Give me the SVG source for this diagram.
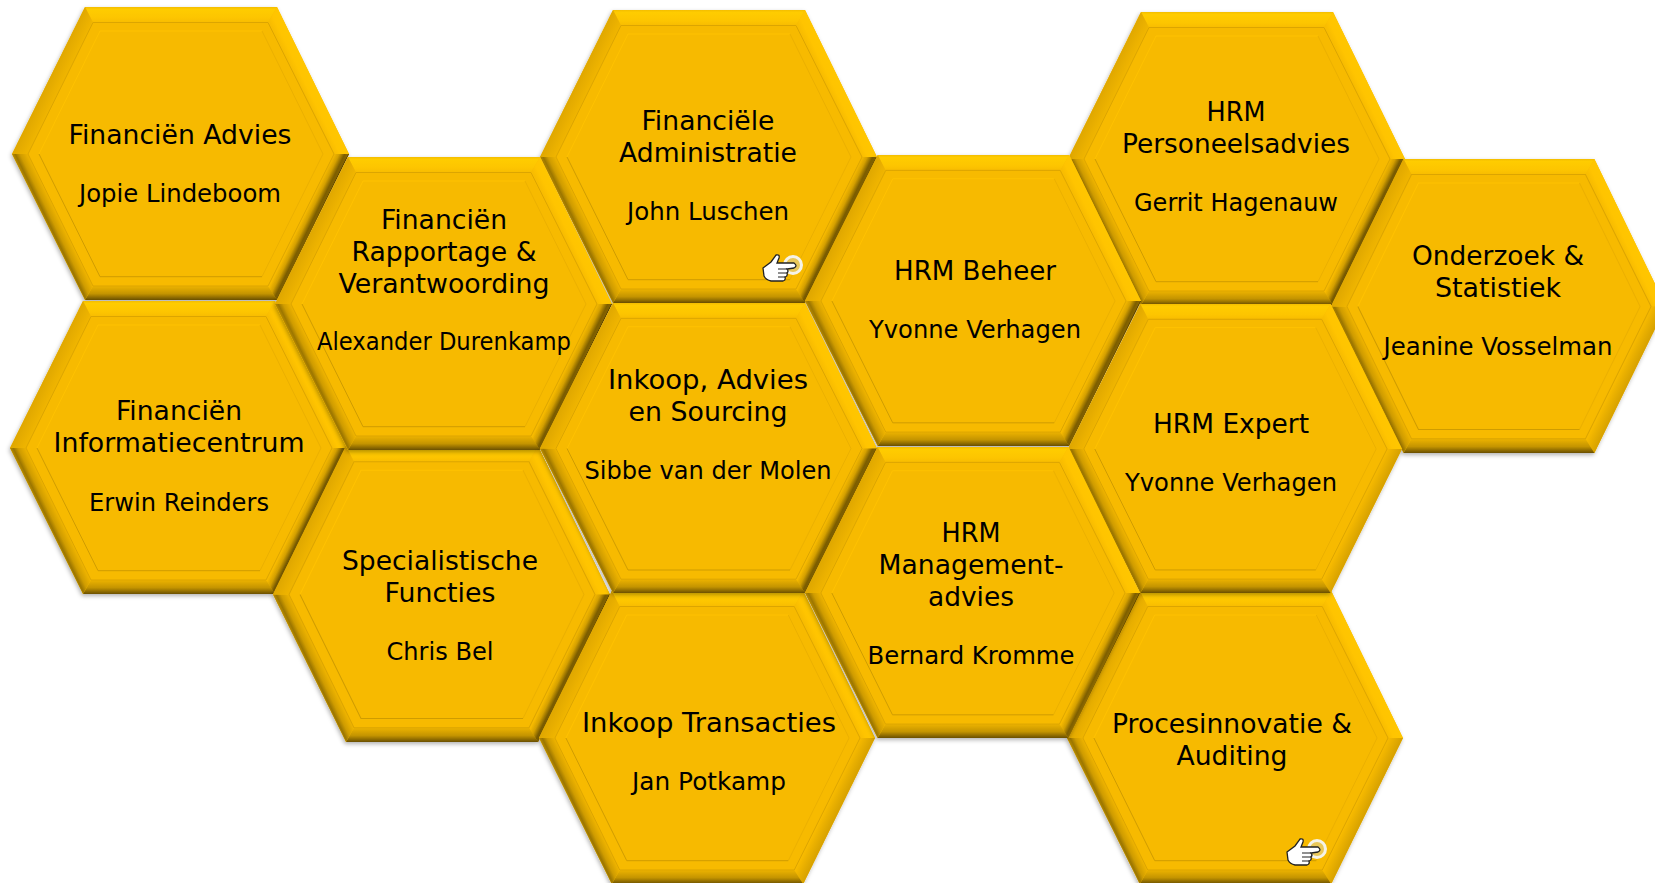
<svg xmlns="http://www.w3.org/2000/svg" width="1655" height="883" viewBox="0 0 1655 883">
<defs>
<linearGradient id="gt" x1="0" y1="0" x2="0" y2="1"><stop offset="0" stop-color="#F3BD00"/><stop offset=".15" stop-color="#FFCC00"/><stop offset=".7" stop-color="#FDC500"/><stop offset="1" stop-color="#F8BC00"/></linearGradient>
<linearGradient id="gb" x1="0" y1="0" x2="0" y2="1"><stop offset="0" stop-color="#EDB300"/><stop offset=".55" stop-color="#C49400"/><stop offset="1" stop-color="#6B5000"/></linearGradient>
<linearGradient id="gl" gradientUnits="userSpaceOnUse" x1="16" y1="147" x2="3.1" y2="140.7"><stop offset="0" stop-color="#F0B500"/><stop offset="1" stop-color="#DFA700"/></linearGradient>
<linearGradient id="gl2" gradientUnits="userSpaceOnUse" x1="16" y1="147" x2="3.1" y2="153.3"><stop offset="0" stop-color="#EFB400"/><stop offset=".5" stop-color="#CF9C00"/><stop offset=".8" stop-color="#9C7600"/><stop offset="1" stop-color="#B88B00"/></linearGradient>
<linearGradient id="gr" gradientUnits="userSpaceOnUse" x1="322" y1="147" x2="334.1" y2="141.1"><stop offset="0" stop-color="#F8BC00"/><stop offset=".4" stop-color="#FFC400"/><stop offset="1" stop-color="#FFC600"/></linearGradient>
<linearGradient id="gr2" gradientUnits="userSpaceOnUse" x1="322" y1="147" x2="334.1" y2="152.9"><stop offset="0" stop-color="#F7BA00"/><stop offset=".7" stop-color="#DFA800"/><stop offset="1" stop-color="#D6A000"/></linearGradient>
<linearGradient id="gs" gradientUnits="userSpaceOnUse" x1="322" y1="147" x2="334.1" y2="152.9"><stop offset="0" stop-color="#2E2200" stop-opacity="0"/><stop offset=".35" stop-color="#2E2200" stop-opacity=".12"/><stop offset=".72" stop-color="#2E2200" stop-opacity=".55"/><stop offset=".92" stop-color="#2E2200" stop-opacity=".45"/><stop offset="1" stop-color="#1E1600" stop-opacity=".85"/></linearGradient>
<filter id="sh" x="-5%" y="-5%" width="110%" height="112%"><feDropShadow dx="-1" dy="2" stdDeviation="2" flood-color="#000" flood-opacity=".3"/></filter>
<g id="hex">
<path d="M73 0H265L337 147 265 293H73L0 147Z" fill="#F7BA00" filter="url(#sh)"/>
<path d="M73 0H265L256 15.5H81Z" fill="url(#gt)"/>
<path d="M265 0L337 147H322L256 15.5Z" fill="url(#gr)"/>
<path d="M337 147L265 293L256 279L322 147Z" fill="url(#gr2)"/>
<path d="M265 293H73L81 279H256Z" fill="url(#gb)"/>
<path d="M73 293L0 147H16L81 279Z" fill="url(#gl2)"/>
<path d="M0 147L73 0L81 15.5L16 147Z" fill="url(#gl)"/>
<path d="M81 15.5H256L322 147 256 279H81L16 147Z" fill="#F7BA00" stroke="#DCA500" stroke-width="1"/>
<path d="M27 147L88 24H250" fill="none" stroke="#FFC200" stroke-width="1"/>
<path d="M250 24L311 147 250 269.7" fill="none" stroke="#EBB000" stroke-width="1"/>
<path d="M250 269.7H88L27 147" fill="none" stroke="#CF9C00" stroke-width="1"/>
</g>
<path id="shd" d="M337 147L265 293L256 279L322 147Z" fill="url(#gs)"/>
<g id="hand">
<circle cx="31" cy="11" r="8.5" fill="#E9C85A" stroke="#F5F3E8" stroke-width="3"/>
<path d="M1 14L9 8L14 1Q18 0 17 4L15 9L32 9Q36 12 32 14L25 15Q27 17 25 19Q26 22 23 23Q24 26 21 27L9 27Q4 26 2 22Z" fill="#fff" stroke="#222" stroke-width="1.3"/>
<path d="M16 15H25M16 19H25M16 23H23" fill="none" stroke="#222" stroke-width="1.1"/>
</g>
</defs>
<style>
text{font-family:"DejaVu Sans","Verdana",sans-serif;fill:#000;text-anchor:middle}
.t{font-size:26.67px}
.n{font-size:24px}
</style>
<rect width="1655" height="883" fill="#fff"/>
<g id="connectors"/>
<g id="n1"><g transform="translate(12 7)"><use href="#hex"/><use href="#shd"/></g><text class="t" x="180" y="144" textLength="223" lengthAdjust="spacingAndGlyphs">Financiën Advies</text><text class="n" x="180" y="202" textLength="202" lengthAdjust="spacingAndGlyphs">Jopie Lindeboom</text></g>
<g id="n3"><g transform="translate(540 10)"><use href="#hex"/><use href="#shd"/></g><text class="t" x="708" y="130" textLength="133" lengthAdjust="spacingAndGlyphs">Financiële</text><text class="t" x="708" y="162" textLength="178" lengthAdjust="spacingAndGlyphs">Administratie</text><text class="n" x="708" y="220" textLength="162" lengthAdjust="spacingAndGlyphs">John Luschen</text><use href="#hand" x="762" y="254"/></g>
<g id="n5"><g transform="translate(1068 12)"><use href="#hex"/><use href="#shd"/></g><text class="t" x="1236" y="121" textLength="59" lengthAdjust="spacingAndGlyphs">HRM</text><text class="t" x="1236" y="153" textLength="228" lengthAdjust="spacingAndGlyphs">Personeelsadvies</text><text class="n" x="1236" y="211" textLength="204" lengthAdjust="spacingAndGlyphs">Gerrit Hagenauw</text></g>
<g id="n7"><g transform="translate(10 301)"><use href="#hex"/><use href="#shd"/></g><text class="t" x="179" y="420" textLength="126" lengthAdjust="spacingAndGlyphs">Financiën</text><text class="t" x="179" y="452" textLength="251" lengthAdjust="spacingAndGlyphs">Informatiecentrum</text><text class="n" x="179" y="511" textLength="180" lengthAdjust="spacingAndGlyphs">Erwin Reinders</text></g>
<g id="n8"><g transform="translate(273 446) scale(1 1.01)"><use href="#hex"/><use href="#shd"/></g><text class="t" x="440" y="570" textLength="196" lengthAdjust="spacingAndGlyphs">Specialistische</text><text class="t" x="440" y="602" textLength="111" lengthAdjust="spacingAndGlyphs">Functies</text><text class="n" x="440" y="660" textLength="107" lengthAdjust="spacingAndGlyphs">Chris Bel</text></g>
<g id="n2"><g transform="translate(275 157)"><use href="#hex"/><use href="#shd"/></g><text class="t" x="444" y="229" textLength="126" lengthAdjust="spacingAndGlyphs">Financiën</text><text class="t" x="444" y="261" textLength="185" lengthAdjust="spacingAndGlyphs">Rapportage &amp;</text><text class="t" x="444" y="293" textLength="211" lengthAdjust="spacingAndGlyphs">Verantwoording</text><text class="n" x="444" y="350" textLength="254" lengthAdjust="spacingAndGlyphs">Alexander Durenkamp</text></g>
<g id="n4"><g transform="translate(805 155) scale(.997 .993)"><use href="#hex"/><use href="#shd"/></g><text class="t" x="975" y="280" textLength="162" lengthAdjust="spacingAndGlyphs">HRM Beheer</text><text class="n" x="975" y="338" textLength="212" lengthAdjust="spacingAndGlyphs">Yvonne Verhagen</text></g>
<g id="n6"><g transform="translate(1331 159) scale(.994 1.003)"><use href="#hex"/></g><text class="t" x="1498" y="265" textLength="172" lengthAdjust="spacingAndGlyphs">Onderzoek &amp;</text><text class="t" x="1498" y="297" textLength="126" lengthAdjust="spacingAndGlyphs">Statistiek</text><text class="n" x="1498" y="355" textLength="229" lengthAdjust="spacingAndGlyphs">Jeanine Vosselman</text></g>
<g id="n12"><g transform="translate(539 591) scale(.997 1)"><use href="#hex"/></g><text class="t" x="709" y="732" textLength="254" lengthAdjust="spacingAndGlyphs">Inkoop Transacties</text><text class="n" x="709" y="790" textLength="154" lengthAdjust="spacingAndGlyphs">Jan Potkamp</text></g>
<g id="n13"><g transform="translate(1067 591) scale(.997 1)"><use href="#hex"/></g><text class="t" x="1232" y="733" textLength="240" lengthAdjust="spacingAndGlyphs">Procesinnovatie &amp;</text><text class="t" x="1232" y="765" textLength="111" lengthAdjust="spacingAndGlyphs">Auditing</text><use href="#hand" x="1286" y="838"/></g>
<g id="n9"><g transform="translate(540 303) scale(1 .99)"><use href="#hex"/><use href="#shd"/></g><text class="t" x="708" y="389" textLength="200" lengthAdjust="spacingAndGlyphs">Inkoop, Advies</text><text class="t" x="708" y="421" textLength="159" lengthAdjust="spacingAndGlyphs">en Sourcing</text><text class="n" x="708" y="479" textLength="247" lengthAdjust="spacingAndGlyphs">Sibbe van der Molen</text></g>
<g id="n10"><g transform="translate(1068 304) scale(.991 .986)"><use href="#hex"/></g><text class="t" x="1231" y="433" textLength="156" lengthAdjust="spacingAndGlyphs">HRM Expert</text><text class="n" x="1231" y="491" textLength="212" lengthAdjust="spacingAndGlyphs">Yvonne Verhagen</text></g>
<g id="n11"><g transform="translate(805 447) scale(.994 .993)"><use href="#hex"/><use href="#shd"/></g><text class="t" x="971" y="542" textLength="59" lengthAdjust="spacingAndGlyphs">HRM</text><text class="t" x="971" y="574" textLength="185" lengthAdjust="spacingAndGlyphs">Management-</text><text class="t" x="971" y="606" textLength="86" lengthAdjust="spacingAndGlyphs">advies</text><text class="n" x="971" y="664" textLength="207" lengthAdjust="spacingAndGlyphs">Bernard Kromme</text></g>
</svg>
